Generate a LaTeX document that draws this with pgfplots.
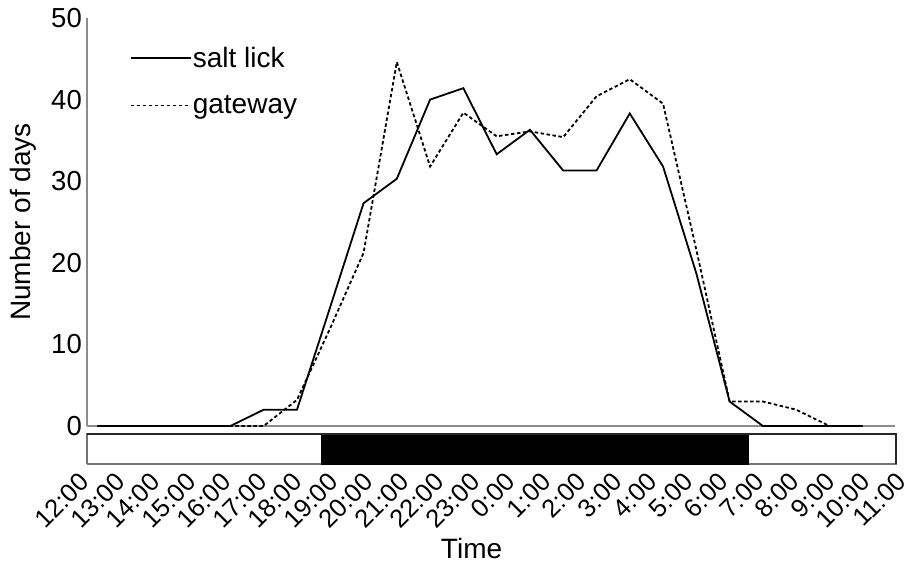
\documentclass[border=0pt]{standalone}
\usepackage{pgfplots}
\pgfplotsset{compat=1.18}
\usepackage{fontspec}
\setmainfont{Liberation Sans}
\pgfplotstableread{
i salt gate
0 0 0
1 0 0
2 0 0
3 0 0
4 0 0
5 2 0
6 2 3.2
7 14.6 12
8 27.3 21.2
9 30.3 44.6
10 40 31.8
11 41.4 38.4
12 33.3 35.5
13 36.3 36.1
14 31.3 35.4
15 31.3 40.4
16 38.3 42.5
17 31.8 39.5
18 18.7 21.6
19 3 3
20 0 3
21 0 2
22 0 0
23 0 0
}\datatable
\begin{document}
\begin{tikzpicture}[x=1pt,y=1pt]
\useasboundingbox (0,0) rectangle (910,569);
\begin{axis}[
  at={(87pt,143pt)}, anchor=south west, scale only axis,
  width=808pt, height=408pt,
  xmin=-0.31, xmax=23.97, ymin=0, ymax=50,
  axis x line*=bottom, axis y line*=left,
  axis line style={-, black!45, line width=1.3pt},
  xtick=\empty, ytick={0,10,...,50},
  major tick length=0pt,
  /pgf/number format/assume math mode=true,
  yticklabel style={font=\fontsize{27.5}{27.5}\selectfont, inner sep=0pt, xshift=-5pt},
  ylabel={Number of days},
  ylabel style={at={(axis description cs:-0.079,0.5)}, anchor=center, font=\fontsize{28}{28}\selectfont},
  clip=false,
  legend style={draw=none, fill=none, at={(axis description cs:0.053,0.932)}, anchor=north west,
    font=\fontsize{28}{28}\selectfont, row sep=25pt, inner sep=0pt,
    nodes={inner sep=1pt},
    /tikz/every even column/.append style={column sep=5pt}},
  legend cell align=left,
  legend image code/.code={\draw[#1] (0pt,0pt) -- (60pt,0pt);},
]
\addplot[black, line width=1.8pt] table[x=i, y=salt] {\datatable};
\addlegendentry{salt lick}
\addplot[black, line width=1.8pt, dash pattern=on 3.5pt off 2.5pt] table[x=i, y=gate] {\datatable};
\addlegendentry{gateway}
\end{axis}
\begin{axis}[
  at={(67pt,105pt)}, anchor=south west, scale only axis,
  width=849pt, height=30pt,
  xmin=-20, xmax=829, ymin=0, ymax=1,
  axis line style={draw=none},
  ytick=\empty, xtick pos=bottom,
  major tick length=0pt,
  xtick={-16,19.5,55,90.5,126,161.5,197,232.5,268,303.5,339,374.5,410,445.5,481,516.5,552,587.5,623,658.5,694,729.5,765,800.5},
  xticklabels={12:00,13:00,14:00,15:00,16:00,17:00,18:00,19:00,20:00,21:00,22:00,23:00,0:00,1:00,2:00,3:00,4:00,5:00,6:00,7:00,8:00,9:00,10:00,11:00},
  xticklabel style={rotate=45, anchor=north east, inner sep=0pt, yshift=-10pt, font=\fontsize{25.5}{25.5}\selectfont},
  xlabel={Time},
  xlabel style={at={(axis description cs:0.4765,-2.8)}, anchor=center, font=\fontsize{28}{28}\selectfont},
  clip=false,
]
\addplot[fill=white, draw=black!55, line width=1.2pt] coordinates {(0,0) (809,0) (809,1) (0,1) (0,0)};
\addplot[fill=black, draw=black, line width=0.8pt] coordinates {(234,0) (661,0) (661,1) (234,1) (234,0)};
\addplot[draw=black!85, line width=1.2pt] coordinates {(0,1) (809,1) (809,0)};
\end{axis}
\end{tikzpicture}
\end{document}
